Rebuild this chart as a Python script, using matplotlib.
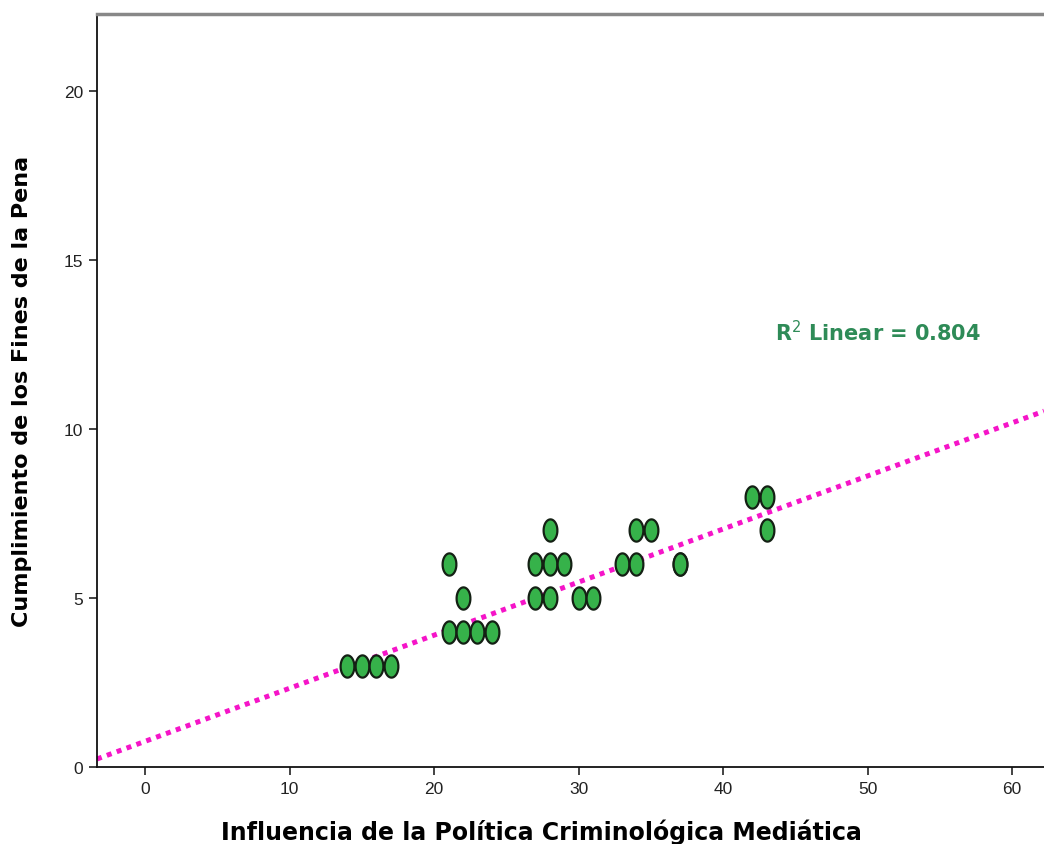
import matplotlib
matplotlib.use("Agg")
import matplotlib.pyplot as plt
import numpy as np

# data
influencia = [14, 15, 16, 17, 21, 22, 23, 24, 22, 21, 27, 27, 28, 28, 28, 29,
              30, 31, 33, 34, 34, 35, 37, 37, 42, 43, 43]
cumplimiento = [3, 3, 3, 3, 4, 4, 4, 4, 5, 6, 5, 6, 5, 6, 7, 6,
                5, 5, 6, 6, 7, 7, 6, 6, 8, 8, 7]

# fit line as drawn in the reference
fit_intercept = 0.76
fit_slope = 0.157
r2_text = "R$^2$ Linear = 0.804"

x_ticks = [0, 10, 20, 30, 40, 50, 60]
y_ticks = [0, 5, 10, 15, 20]

plt.rcParams["font.family"] = ["Liberation Sans", "DejaVu Sans"]
plt.rcParams["mathtext.fontset"] = "dejavusans"

fig = plt.figure(figsize=(10.44, 8.45), dpi=100)
ax = fig.add_axes([0.0929, 0.0911, 0.9071, 0.8911])

xmin, xmax = -3.33, 62.2
ax.set_xlim(xmin, xmax)
ax.set_ylim(0, 22.27)

# fit line
xs = np.array([xmin, xmax])
ax.plot(xs, fit_intercept + fit_slope * xs, color="#f514c8", lw=3.6,
        linestyle=(0, (1, 1.1)), dash_capstyle="butt", zorder=2)

# elliptical marker (taller than wide)
t = np.linspace(0, 2 * np.pi, 60)
ellipse = list(zip(0.62 * np.cos(t), np.sin(t)))
ax.scatter(influencia, cumplimiento, marker=ellipse, s=16 ** 2,
           facecolor="#36b24a", edgecolor="#142014", linewidth=1.6, zorder=3)

ax.text(43.6, 12.88, r2_text, color="#2e8b57", fontsize=15,
        family="DejaVu Sans", fontweight="bold", ha="left", va="center")

ax.set_xticks(x_ticks)
ax.set_yticks(y_ticks)
ax.tick_params(axis="both", direction="out", length=6, width=1.2,
               labelsize=12.5, colors="#222222", pad=4)

for side in ["left", "bottom"]:
    ax.spines[side].set_color("#111111")
    ax.spines[side].set_linewidth(1.3)
ax.spines["top"].set_color("#888888")
ax.spines["top"].set_linewidth(2.5)
ax.spines["right"].set_visible(False)

ax.set_xlabel("Influencia de la Política Criminológica Mediática",
              fontsize=17, family="DejaVu Sans", fontweight="bold")
ax.xaxis.set_label_coords(0.469, -0.068)
ax.set_ylabel("Cumplimiento de los Fines de la Pena",
              fontsize=16, family="DejaVu Sans", fontweight="bold")
ax.yaxis.set_label_coords(-0.069, 0.5)

fig.savefig("out.png", dpi=100)
